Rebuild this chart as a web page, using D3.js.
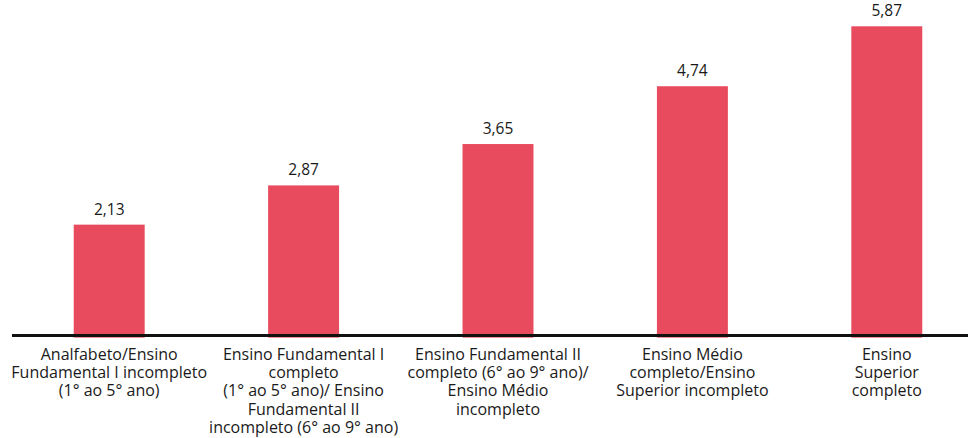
<!DOCTYPE html>
<html>
<head>
<meta charset="utf-8">
<script src="https://cdn.jsdelivr.net/npm/d3@7"></script>
<style>
  html, body { margin: 0; padding: 0; background: #ffffff; }
  svg { display: block; }
</style>
</head>
<body>
<svg id="chart" width="968" height="438"></svg>
<script>
const categories = [
  "Analfabeto/Ensino Fundamental I incompleto (1° ao 5° ano)",
  "Ensino Fundamental I completo (1° ao 5° ano)/ Ensino Fundamental II incompleto (6° ao 9° ano)",
  "Ensino Fundamental II completo (6° ao 9° ano)/ Ensino Médio incompleto",
  "Ensino Médio completo/Ensino Superior incompleto",
  "Ensino Superior completo"
];
const labelLines = [
  ["Analfabeto/Ensino", "Fundamental I incompleto", "(1° ao 5° ano)"],
  ["Ensino Fundamental I", "completo", "(1° ao 5° ano)/ Ensino", "Fundamental II", "incompleto (6° ao 9° ano)"],
  ["Ensino Fundamental II", "completo (6° ao 9° ano)/", "Ensino Médio", "incompleto"],
  ["Ensino Médio", "completo/Ensino", "Superior incompleto"],
  ["Ensino", "Superior", "completo"]
];
const values = [2.13, 2.87, 3.65, 4.74, 5.87];
const valueLabels = ["2,13", "2,87", "3,65", "4,74", "5,87"];

const svg = d3.select("#chart");
const font = "'Open Sans', 'Noto Sans', sans-serif";

const x = d3.scaleBand()
  .domain(categories)
  .range([12, 984])
  .paddingInner(0.635)
  .paddingOuter(0.3175);

const y = d3.scaleLinear()
  .domain([0, 6.366])
  .range([337.6, 0]);

// bars
svg.append("g").selectAll("rect")
  .data(values)
  .join("rect")
  .attr("x", (d, i) => x(categories[i]))
  .attr("y", d => y(d))
  .attr("width", x.bandwidth())
  .attr("height", d => y(0) - y(d))
  .attr("fill", "#E84B5E");

// value labels
svg.append("g").selectAll("text")
  .data(values)
  .join("text")
  .attr("x", (d, i) => x(categories[i]) + x.bandwidth() / 2)
  .attr("y", d => y(d) - 10)
  .attr("text-anchor", "middle")
  .attr("font-family", font)
  .attr("font-size", 15.5)
  .attr("fill", "#1a1a1a")
  .text((d, i) => valueLabels[i]);

// axis baseline
const axis = d3.axisBottom(x).tickSize(0).tickFormat("");
const axisG = svg.append("g")
  .attr("transform", "translate(0,335.5)")
  .call(axis);
axisG.select(".domain").remove();
axisG.append("line")
  .attr("x1", 12).attr("x2", 968)
  .attr("y1", 0).attr("y2", 0)
  .attr("stroke", "#111")
  .attr("stroke-width", 3);

// category labels
const catG = svg.append("g");
categories.forEach((c, i) => {
  const cx = x(c) + x.bandwidth() / 2;
  const t = catG.append("text")
    .attr("x", cx)
    .attr("y", 360)
    .attr("text-anchor", "middle")
    .attr("font-family", font)
    .attr("font-size", 16)
    .attr("fill", "#1a1a1a");
  labelLines[i].forEach((line, j) => {
    t.append("tspan")
      .attr("x", cx)
      .attr("y", 360 + j * 18.2)
      .text(line);
  });
});
</script>
</body>
</html>
